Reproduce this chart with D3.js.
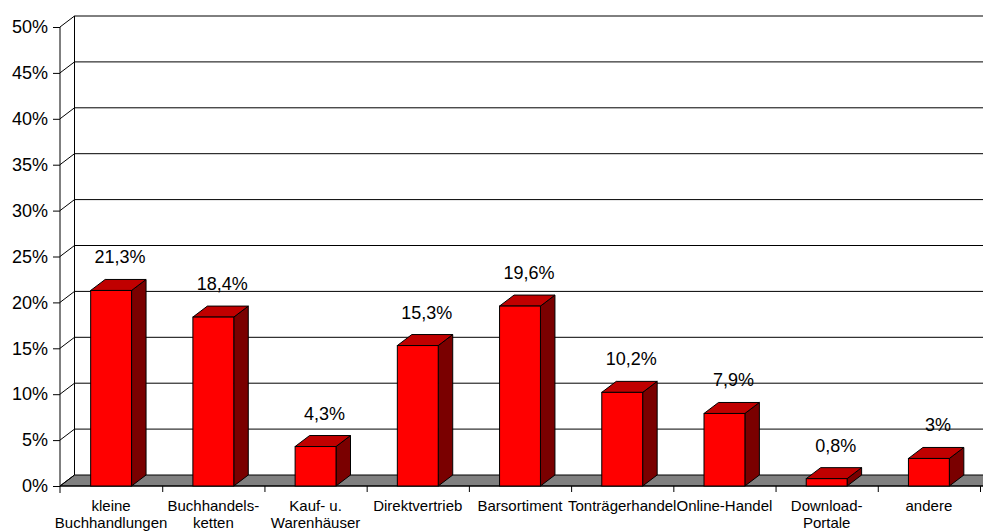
<!DOCTYPE html>
<html>
<head>
<meta charset="utf-8">
<script src="https://cdn.jsdelivr.net/npm/d3@7"></script>
<style>
  body { margin: 0; background: #fff; }
  svg { display: block; font-family: "Liberation Sans", Arial, sans-serif; }
</style>
</head>
<body>
<div id="chart"></div>
<script>
// data
var categories = ["kleine\nBuchhandlungen", "Buchhandels-\nketten", "Kauf- u.\nWarenhäuser",
  "Direktvertrieb", "Barsortiment", "Tonträgerhandel", "Online-Handel", "Download-\nPortale", "andere"];
var shares = [21.3, 18.4, 4.3, 15.3, 19.6, 10.2, 7.9, 0.8, 3];
var yTicks = [0, 5, 10, 15, 20, 25, 30, 35, 40, 45, 50];

var widthT = 983, heightT = 532;
var depth = {x: 14.5, y: -11};   // 3d offset of the back wall

var svg = d3.select("#chart").append("svg")
    .attr("width", widthT)
    .attr("height", heightT);

var x = d3.scaleBand().domain(categories).range([60, 980]);
var y = d3.scaleLinear().domain([0, 50]).range([486, 27]);
var barW = x.bandwidth() * 0.4;

var g = svg.append("g");

// floor
var x0 = x.range()[0], x1 = x.range()[1];
g.append("path")
    .attr("d", "M" + x0 + "," + y(0) + "L" + (x0 + depth.x) + "," + (y(0) + depth.y) +
      "L" + (x1 + depth.x + 20) + "," + (y(0) + depth.y) + "L" + (x1 + 20) + "," + y(0) + "Z")
    .attr("fill", "#808080")
    .attr("stroke", "#000")
    .attr("stroke-width", 1);

// back wall grid + side wall diagonals
g.selectAll("line.grid")
  .data(yTicks.filter(function(d) { return d > 0; }))
  .enter().append("line")
    .attr("class", "grid")
    .attr("x1", x0 + depth.x).attr("x2", widthT + 20)
    .attr("y1", function(d) { return y(d) + depth.y; })
    .attr("y2", function(d) { return y(d) + depth.y; })
    .attr("stroke", "#000");

g.selectAll("line.diag")
  .data(yTicks)
  .enter().append("line")
    .attr("class", "diag")
    .attr("x1", x0).attr("x2", x0 + depth.x)
    .attr("y1", function(d) { return y(d); })
    .attr("y2", function(d) { return y(d) + depth.y; })
    .attr("stroke", "#000");

g.append("line")
    .attr("x1", x0 + depth.x).attr("x2", x0 + depth.x)
    .attr("y1", y(50) + depth.y).attr("y2", y(0) + depth.y)
    .attr("stroke", "#000");

// y axis
var yAxis = g.append("g")
    .attr("transform", "translate(" + x0 + ",0)")
    .call(d3.axisLeft(y).tickValues(yTicks).tickSize(7).tickPadding(5)
      .tickFormat(function(d) { return d + "%"; }));
yAxis.select(".domain").attr("d", "M0," + y(50) + "V" + (y(0) + 7)).attr("stroke", "#000");
yAxis.selectAll("text").attr("font-size", 18).attr("fill", "#000")
    .attr("font-family", "'Liberation Sans', Arial, sans-serif");
yAxis.selectAll("line").attr("stroke", "#000");

// x axis line + boundary ticks
g.append("line")
    .attr("x1", x0).attr("x2", x1 + 3)
    .attr("y1", y(0)).attr("y2", y(0))
    .attr("stroke", "#000");
var bounds = categories.map(function(c) { return x(c); }).concat([x1]);
g.selectAll("line.xtick")
  .data(bounds.slice(1))
  .enter().append("line")
    .attr("class", "xtick")
    .attr("x1", function(d) { return d + 0.5; }).attr("x2", function(d) { return d + 0.5; })
    .attr("y1", y(0)).attr("y2", y(0) + 6)
    .attr("stroke", "#000");

// bars
var bars = g.selectAll("g.bar")
  .data(shares)
  .enter().append("g")
    .attr("class", "bar");

function bx(d, i) { return x(categories[i]) + (x.bandwidth() - barW) / 2; }

bars.append("path")   // side
    .attr("d", function(d, i) {
      var r = bx(d, i) + barW;
      return "M" + r + "," + y(d) + "L" + (r + depth.x) + "," + (y(d) + depth.y) +
        "L" + (r + depth.x) + "," + (y(0) + depth.y) + "L" + r + "," + y(0) + "Z";
    })
    .attr("fill", "#7a0000").attr("stroke", "#000");

bars.append("path")   // top
    .attr("d", function(d, i) {
      var l = bx(d, i), r = l + barW;
      return "M" + l + "," + y(d) + "L" + (l + depth.x) + "," + (y(d) + depth.y) +
        "L" + (r + depth.x) + "," + (y(d) + depth.y) + "L" + r + "," + y(d) + "Z";
    })
    .attr("fill", "#c00000").attr("stroke", "#000");

bars.append("rect")   // front
    .attr("x", bx)
    .attr("y", function(d) { return y(d); })
    .attr("width", barW)
    .attr("height", function(d) { return y(0) - y(d); })
    .attr("fill", "#ff0000").attr("stroke", "#000");

// value labels
bars.append("text")
    .attr("x", function(d, i) { return bx(d, i) + barW / 2 + 9; })
    .attr("y", function(d) { return y(d) + depth.y - 16; })
    .attr("text-anchor", "middle")
    .attr("font-size", 18)
    .text(function(d) { return String(d).replace(".", ",") + "%"; });

// category labels
var cat = g.selectAll("text.cat")
  .data(categories)
  .enter().append("text")
    .attr("class", "cat")
    .attr("text-anchor", "middle")
    .attr("font-size", 15)
    .attr("x", function(d) { return x(d) + x.bandwidth() / 2; })
    .attr("y", 511);
cat.selectAll("tspan")
  .data(function(d) { return d.split("\n"); })
  .enter().append("tspan")
    .attr("x", function() { return d3.select(this.parentNode).attr("x"); })
    .attr("dy", function(d, i) { return i ? 17 : 0; })
    .text(function(d) { return d; });
</script>
</body>
</html>
